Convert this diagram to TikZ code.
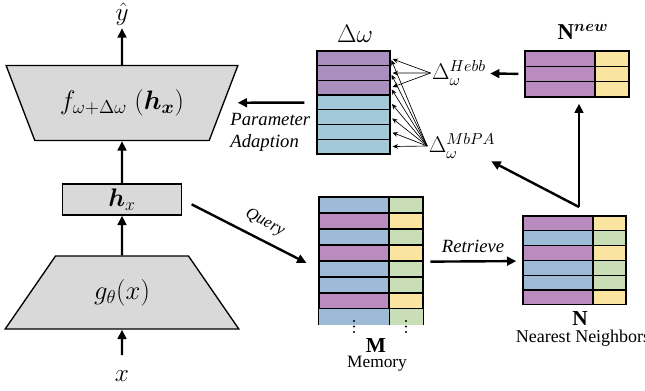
\RequirePackage{fix-cm}
\documentclass[tikz,border=0pt]{standalone}
\usepackage{fontspec}
\setmainfont{Liberation Serif}
\usepackage{bm}
\usetikzlibrary{shapes.geometric,arrows.meta}

\definecolor{mblue}{HTML}{9DBAD7}
\definecolor{mpurple}{HTML}{B98BBE}
\definecolor{mgreen}{HTML}{C9DEB7}
\definecolor{myellow}{HTML}{FBE3A0}
\definecolor{dpurple}{HTML}{A88FBD}
\definecolor{dblue}{HTML}{A2C9D8}
\definecolor{trapgray}{HTML}{D9D9D9}

\tikzset{
    trap/.style={draw, line width=1pt, fill=trapgray, trapezium,
        trapezium stretches=true, inner sep=0pt},
    cell/.style={draw, line width=1pt, inner sep=0pt},
    arr/.style={-{Triangle[length=7pt,width=6.5pt]}, line width=1.8pt},
    thinarr/.style={-{Stealth[length=4pt,width=3.5pt]}, line width=0.5pt},
    mathlbl/.style={font=\fontsize{19}{21}\selectfont},
    deltalbl/.style={font=\fontsize{17}{19}\selectfont, inner sep=1pt},
    txtlbl/.style={font=\fontsize{13}{15}\selectfont},
    itlbl/.style={font=\fontsize{14}{16}\selectfont\itshape}
}

\begin{document}
\begin{tikzpicture}[x=0.75pt,y=-0.75pt]
    \useasboundingbox (0,0) rectangle (645,390);

    % encoder / decoder column
    \node[
        trap,
        shape border rotate=180,
        trapezium angle=52.5,
        minimum width=174pt,
        minimum height=56.25pt,
        font=\fontsize{20}{22}\selectfont,
        name=f
    ] at (122,103) {$f_{\omega+\Delta\omega}\;(\bm{h_x})$};
    \node[
        draw,
        fill=trapgray,
        line width=1pt,
        minimum width=89.25pt,
        minimum height=23.25pt,
        mathlbl,
        name=hx
    ] at (122,199.5) {$\bm{h}_{x}$};
    \node[
        trap,
        trapezium angle=51.5,
        minimum width=176.25pt,
        minimum height=54.75pt,
        font=\fontsize{20}{22}\selectfont,
        name=g
    ] at (122,292.5) {$g_{\theta}(x)$};
    \node[mathlbl, inner sep=2pt, name=yhat] at (122,14) {$\hat{y}$};
    \node[mathlbl, name=xin] at (122,376) {$x$};

    \draw[arr] (f) -- (yhat);
    \draw[arr] (hx) -- (f);
    \draw[arr] (g) -- (hx);
    \draw[arr, shorten <=8pt] (xin) -- (g);

    % memory M
    \foreach \k/\v [count=\i] in {mblue/mgreen, mpurple/myellow, mblue/mgreen,
        mpurple/myellow, mblue/mgreen, mblue/mgreen, mpurple/myellow} {
        \node[cell, fill=\k, minimum width=52.5pt, minimum height=12pt]
            (mk\i) at (354,189+16*\i) {};
        \node[cell, fill=\v, minimum width=25.5pt, minimum height=12pt]
            (mv\i) at (406,189+16*\i) {};
    }
    \node[fill=mblue, inner sep=0pt, minimum width=52.5pt, minimum height=12pt]
        (mk8) at (354,317) {};
    \node[fill=mgreen, inner sep=0pt, minimum width=25.5pt, minimum height=12pt]
        (mv8) at (406,317) {};
    \draw[line width=1pt] (mk8.south west) -- (mk8.north west);
    \draw[line width=1pt] (mk8.south east) -- (mk8.north east);
    \draw[line width=1pt] (mv8.south east) -- (mv8.north east);
    % dots
    \foreach \d in {0,1,2} {
        \fill (mk8.south |- 0,321+5.5*\d) circle (0.9pt);
        \fill (mv8.south |- 0,321+5.5*\d) circle (0.9pt);
    }
    \node[font=\fontsize{16}{17}\selectfont, inner sep=1pt, name=mlbl] at (376,346) {$\mathbf{M}$};
    \node[txtlbl, name=mem] at (377,364) {Memory};

    % nearest neighbours N
    \foreach \k/\v [count=\i] in {mpurple/myellow, mblue/mgreen, mpurple/myellow,
        mblue/mgreen, mblue/mgreen, mpurple/myellow} {
        \node[cell, fill=\k, minimum width=52.5pt, minimum height=11.1pt]
            (nk\i) at (558,208.6+14.8*\i) {};
        \node[cell, fill=\v, minimum width=24.75pt, minimum height=11.1pt]
            (nv\i) at (609.5,208.6+14.8*\i) {};
    }
    \node[font=\fontsize{16}{17}\selectfont, inner sep=1pt, name=nlbl] at (580,319) {$\mathbf{N}$};
    \node[font=\fontsize{13.5}{15}\selectfont, name=nn] at (583,338) {Nearest Neighbors};

    % new neighbours
    \foreach \i in {1,2,3} {
        \node[cell, fill=mpurple, minimum width=52.5pt, minimum height=11.5pt]
            (nnk\i) at (560,43.3+15.33*\i) {};
        \node[cell, fill=myellow, minimum width=25.5pt, minimum height=11.5pt]
            (nnv\i) at (612,43.3+15.33*\i) {};
    }
    \node[font=\fontsize{17}{19}\selectfont, name=nnewlbl] at (583,32) {$\mathbf{N}^{\bm{new}}$};

    % weight update
    \foreach \c [count=\i] in {dpurple,dpurple,dpurple,dblue,dblue,dblue,dblue} {
        \node[cell, fill=\c, minimum width=54.75pt, minimum height=11pt]
            (dw\i) at (353.5,43.65+14.7*\i) {};
    }
    \node[mathlbl, name=dwlbl] at (355,34) {$\Delta\omega$};
    \node[deltalbl, name=hebb] at (459,73) {$\Delta_{\omega}^{Hebb}$};
    \node[deltalbl, name=mbpa] at (462,146) {$\Delta_{\omega}^{MbPA}$};

    \foreach \i in {1,2,3} {
        \draw[thinarr, shorten >=1.5pt] (hebb.west) -- (dw\i.east);
    }
    \foreach \i in {1,...,7} {
        \draw[thinarr, shorten >=1.5pt] (mbpa.west) -- (dw\i.east);
    }

    % connectors
    \coordinate (sp) at (579,207);
    \coordinate (mr) at (mv4.south east);
    \coordinate (nl) at (nk3.south west);

    \draw[arr, shorten <=9pt, shorten >=10pt] (dw4) -- (f)
        node[midway, below=4pt, align=left, itlbl] {Parameter\\Adaption};
    \draw[arr, shorten <=8pt, shorten >=10pt] (hx.east) -- (mk5.west)
        node[pos=0.55, above=3pt, sloped, font=\fontsize{12.5}{13}\selectfont\itshape] {Query};
    \draw[arr, shorten <=5pt, shorten >=4.5pt] (mr) -- (nl)
        node[midway, above=2pt, itlbl] {Retrieve};
    \draw[arr, shorten >=4.5pt] (sp) -- (sp |- nnk3.south);
    \draw[arr, shorten >=2pt] (sp) -- (mbpa);
    \draw[arr, shorten <=4.5pt, shorten >=2pt] (nnk2.west) -- (hebb);
\end{tikzpicture}
\end{document}
